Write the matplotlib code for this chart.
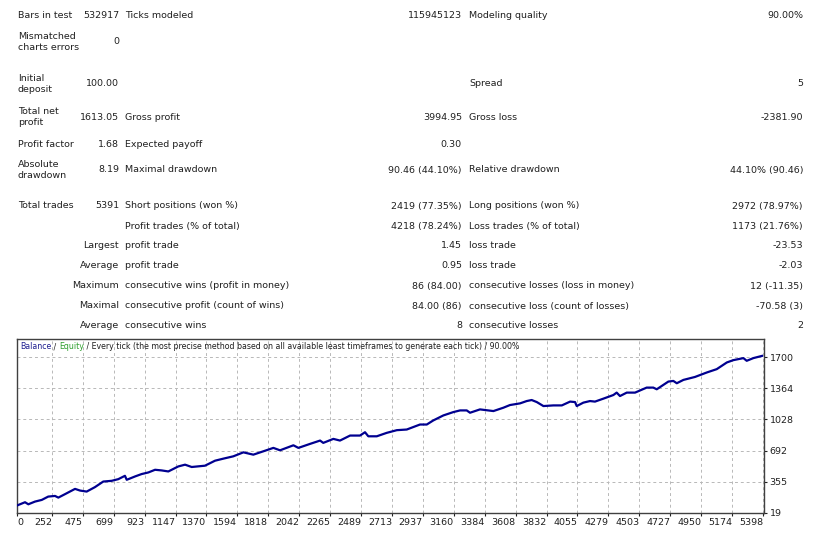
import numpy as np
import matplotlib
matplotlib.use("Agg")
import matplotlib.pyplot as plt

plt.rcParams['font.family'] = ['DejaVu Sans']

# report table rows: (y, label, value, name2, value2, name3, value3)
row_y = [15, 42, 84, 117, 144, 170, 206, 226, 246, 266, 286, 306, 326]
col1 = ["Bars in test", "Mismatched\ncharts errors", "Initial\ndeposit", "Total net\nprofit",
        "Profit factor", "Absolute\ndrawdown", "Total trades", "", "", "", "", "", ""]
col1_val = ["532917", "0", "100.00", "1613.05", "1.68", "8.19", "5391",
            "", "Largest", "Average", "Maximum", "Maximal", "Average"]
col2 = ["Ticks modeled", "", "", "Gross profit", "Expected payoff", "Maximal drawdown",
        "Short positions (won %)", "Profit trades (% of total)", "profit trade", "profit trade",
        "consecutive wins (profit in money)", "consecutive profit (count of wins)", "consecutive wins"]
col2_val = ["115945123", "", "", "3994.95", "0.30", "90.46 (44.10%)", "2419 (77.35%)",
            "4218 (78.24%)", "1.45", "0.95", "86 (84.00)", "84.00 (86)", "8"]
col3 = ["Modeling quality", "", "Spread", "Gross loss", "", "Relative drawdown",
        "Long positions (won %)", "Loss trades (% of total)", "loss trade", "loss trade",
        "consecutive losses (loss in money)", "consecutive loss (count of losses)", "consecutive losses"]
col3_val = ["90.00%", "", "5", "-2381.90", "", "44.10% (90.46)", "2972 (78.97%)",
            "1173 (21.76%)", "-23.53", "-2.03", "12 (-11.35)", "-70.58 (3)", "2"]

# balance curve (trade number, balance)
trade_no = [0, 58, 82, 130, 179, 226, 275, 299, 347, 420, 456, 504, 564, 624, 685, 733,
            781, 794, 854, 902, 950, 999, 1047, 1095, 1167, 1216, 1264, 1360, 1433, 1493,
            1565, 1638, 1710, 1782, 1855, 1903, 2000, 2036, 2120, 2193, 2216, 2289, 2337,
            2410, 2482, 2518, 2542, 2603, 2675, 2748, 2820, 2916, 2965, 3012, 3085, 3157,
            3206, 3254, 3278, 3350, 3447, 3519, 3567, 3640, 3688, 3724, 3761, 3809, 3881,
            3942, 4002, 4038, 4050, 4098, 4146, 4182, 4243, 4315, 4339, 4363, 4412, 4472,
            4556, 4604, 4629, 4713, 4749, 4774, 4822, 4906, 4991, 5063, 5136, 5183, 5256,
            5280, 5328, 5391]
balance = [100, 135, 113, 142, 160, 196, 203, 185, 222, 279, 261, 250, 298, 358, 366, 384,
           420, 377, 413, 439, 456, 485, 478, 467, 521, 540, 515, 529, 583, 605,
           630, 673, 648, 684, 721, 695, 749, 721, 764, 800, 775, 818, 800,
           854, 854, 890, 846, 846, 883, 912, 919, 973, 973, 1017, 1071, 1107,
           1125, 1125, 1100, 1136, 1118, 1154, 1183, 1201, 1226, 1237, 1215, 1172, 1179,
           1179, 1220, 1215, 1172, 1209, 1226, 1220, 1252, 1291, 1317, 1280, 1317, 1317,
           1371, 1371, 1353, 1436, 1443, 1418, 1454, 1486, 1534, 1570, 1642, 1667, 1689,
           1660, 1689, 1713]

x_ticks = [0, 252, 475, 699, 923, 1147, 1370, 1594, 1818, 2042, 2265, 2489, 2713, 2937,
           3160, 3384, 3608, 3832, 4055, 4279, 4503, 4727, 4950, 5174, 5398]
y_ticks = [19, 355, 692, 1028, 1364, 1700]

W, H = 815, 533
fig = plt.figure(figsize=(W / 100, H / 100), dpi=100)
fig.patch.set_facecolor('white')

fs = 6.8
txt = '#202020'


def put(x, y, s, ha='left'):
    if s:
        fig.text(x / W, 1 - y / H, s, ha=ha, va='center', fontsize=fs, color=txt,
                 linespacing=1.25)


for i, y in enumerate(row_y):
    put(18, y, col1[i])
    put(119, y, col1_val[i], ha='right')
    put(125, y, col2[i])
    put(462, y, col2_val[i], ha='right')
    put(469, y, col3[i])
    put(803, y, col3_val[i], ha='right')

ax = fig.add_axes([17 / W, 1 - 513 / H, (764 - 17) / W, (513 - 339) / H])
ax.plot(trade_no, balance, color='#000090', lw=1.6, zorder=3)
ax.set_xlim(0, 5405)
ax.set_ylim(19, 1895)

ax.set_xticks(x_ticks)
ax.set_xticklabels([str(v) for v in x_ticks])
for lab in ax.get_xticklabels():
    lab.set_ha('right')
ax.get_xticklabels()[0].set_ha('left')
ax.set_yticks(y_ticks)
ax.yaxis.tick_right()
ax.tick_params(axis='both', labelsize=fs, colors=txt, length=2, width=0.8, pad=1.5)
ax.tick_params(axis='y', pad=2)
ax.grid(True, color='#b8b8b8', linestyle=(0, (3, 3)), linewidth=0.7)
for sp in ax.spines.values():
    sp.set_color('#404040')
    sp.set_linewidth(1.0)

# legend line on top of the chart
tfs = 5.7
t = ax.text(0.004, 0.955, "Balance", transform=ax.transAxes, fontsize=tfs, color='#202090',
            va='center', ha='left')
t = ax.annotate(" / ", xycoords=t, xy=(1, 0.5), va='center', fontsize=tfs, color=txt)
t = ax.annotate("Equity", xycoords=t, xy=(1, 0.5), va='center', fontsize=tfs, color='#30a030')
ax.annotate(" / Every tick (the most precise method based on all available least timeframes "
            "to generate each tick) / 90.00%", xycoords=t, xy=(1, 0.5), va='center',
            fontsize=tfs, color=txt)

fig.savefig("out.png", dpi=100, facecolor='white')
